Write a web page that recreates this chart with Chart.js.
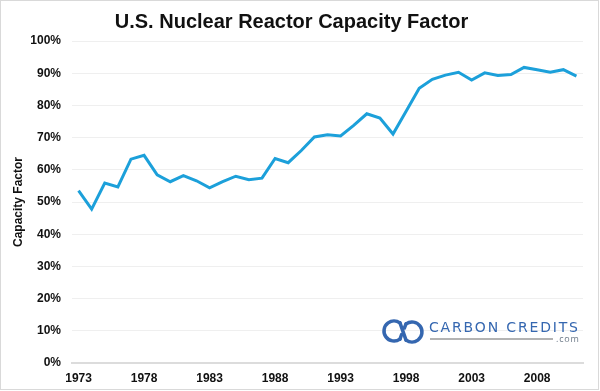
<!DOCTYPE html>
<html>
<head>
<meta charset="utf-8">
<script src="https://cdn.jsdelivr.net/npm/chart.js@4"></script>
<style>
    body { margin: 0; background: #fff; }
    #wrap { position: relative; width: 600px; height: 391px; }
</style>
</head>
<body>
<div id="wrap"><canvas id="lineChart"></canvas></div>
<script>
        // Dados do gráfico
        const years = ['1973', '1974', '1975', '1976', '1977', '1978', '1979', '1980', '1981', '1982',
            '1983', '1984', '1985', '1986', '1987', '1988', '1989', '1990', '1991', '1992',
            '1993', '1994', '1995', '1996', '1997', '1998', '1999', '2000', '2001', '2002',
            '2003', '2004', '2005', '2006', '2007', '2008', '2009', '2010', '2011'];
        const capacityFactor = [53.5, 47.8, 55.9, 54.7, 63.3, 64.5, 58.4, 56.3, 58.2, 56.6,
            54.4, 56.3, 58.0, 56.9, 57.4, 63.5, 62.2, 66.0, 70.2, 70.9,
            70.5, 73.8, 77.4, 76.1, 71.1, 78.2, 85.3, 88.1, 89.4, 90.3,
            87.9, 90.1, 89.3, 89.6, 91.8, 91.1, 90.3, 91.1, 89.1];
        const labeledYears = ['1973', '1978', '1983', '1988', '1993', '1998', '2003', '2008'];

        const FONT = "'Liberation Sans', Arial, sans-serif";
        const BLUE_LOGO = '#3567b0';

        document.addEventListener('DOMContentLoaded', function() {
            initLineChart();
        });

        // Moldura cinza e logo "Carbon Credits"
        const decorPlugin = {
            id: 'decor',
            afterDraw(chart) {
                const ctx = chart.ctx;
                ctx.save();
                ctx.strokeStyle = '#d9d9d9';
                ctx.lineWidth = 1;
                ctx.strokeRect(0.5, 0.5, 598, 389);

                // icone (dois elos entrelaçados)
                ctx.strokeStyle = BLUE_LOGO;
                ctx.lineWidth = 3.5;
                ctx.lineCap = 'round';
                ctx.beginPath();
                ctx.arc(394, 331, 10, 0.3 * Math.PI, 1.7 * Math.PI);
                ctx.stroke();
                ctx.beginPath();
                ctx.arc(412, 332, 10, 1.3 * Math.PI, 0.7 * Math.PI);
                ctx.stroke();
                ctx.beginPath();
                ctx.moveTo(400, 322.9);
                ctx.lineTo(406, 340.1);
                ctx.stroke();
                ctx.beginPath();
                ctx.moveTo(400, 339.1);
                ctx.lineTo(401.6, 334.5);
                ctx.moveTo(404.4, 328.0);
                ctx.lineTo(406, 323.9);
                ctx.stroke();

                // texto
                const text = 'CARBON CREDITS';
                ctx.font = "14px 'DejaVu Sans', sans-serif";
                const w = ctx.measureText(text).width;
                ctx.letterSpacing = Math.max(0, (149 - w) / 13).toFixed(2) + 'px';
                ctx.fillStyle = BLUE_LOGO;
                ctx.textBaseline = 'alphabetic';
                ctx.textAlign = 'left';
                ctx.fillText(text, 429, 332);

                ctx.strokeStyle = '#9a9a9a';
                ctx.lineWidth = 1.5;
                ctx.lineCap = 'butt';
                ctx.beginPath();
                ctx.moveTo(430, 339);
                ctx.lineTo(553, 339);
                ctx.stroke();

                ctx.letterSpacing = '0.8px';
                ctx.font = "9px 'Open Sans', sans-serif";
                ctx.fillStyle = '#6d7a88';
                ctx.textBaseline = 'middle';
                ctx.fillText('.com', 556, 339.5);
                ctx.restore();
            }
        };

        // Gráfico de Linha
        function initLineChart() {
            const ctx = document.getElementById('lineChart').getContext('2d');
            const lineChart = new Chart(ctx, {
                type: 'line',
                data: {
                    labels: years,
                    datasets: [{
                        label: 'Capacity Factor',
                        data: capacityFactor,
                        borderColor: '#1ca0da',
                        backgroundColor: '#1ca0da',
                        borderWidth: 3,
                        pointRadius: 0,
                        tension: 0,
                        fill: false
                    }]
                },
                options: {
                    responsive: true,
                    maintainAspectRatio: false,
                    animation: false,
                    layout: {
                        padding: { left: 0, right: 17, top: 0, bottom: 0 }
                    },
                    plugins: {
                        legend: { display: false },
                        title: {
                            display: true,
                            text: 'U.S. Nuclear Reactor Capacity Factor',
                            color: '#111',
                            font: { family: FONT, size: 20, weight: 'bold' },
                            padding: { top: 10, bottom: 7 }
                        },
                        tooltip: {
                            callbacks: {
                                label: function(context) {
                                    return context.parsed.y + '%';
                                }
                            }
                        }
                    },
                    scales: {
                        x: {
                            type: 'category',
                            offset: true,
                            grid: { display: false, drawTicks: false },
                            border: { display: true, color: '#dcdcdc', width: 2 },
                            ticks: {
                                autoSkip: false,
                                maxRotation: 0,
                                padding: 8,
                                color: '#111',
                                font: { family: FONT, size: 12, weight: 'bold' },
                                callback: function(value) {
                                    const y = this.getLabelForValue(value);
                                    return labeledYears.includes(y) ? y : '';
                                }
                            },
                            afterFit: function(scale) {
                                scale.height = 28;
                            }
                        },
                        y: {
                            min: 0,
                            max: 100,
                            grid: { color: '#efefef', lineWidth: 1, drawTicks: false },
                            border: { display: false },
                            ticks: {
                                stepSize: 10,
                                padding: 11,
                                color: '#111',
                                font: { family: FONT, size: 12, weight: 'bold' },
                                callback: function(value) {
                                    return value + '%';
                                }
                            },
                            title: {
                                display: true,
                                text: 'Capacity Factor',
                                color: '#111',
                                font: { family: FONT, size: 12, weight: 'bold' },
                                padding: { top: 11, bottom: 0 }
                            },
                            afterFit: function(scale) {
                                scale.width = 72;
                            }
                        }
                    }
                },
                plugins: [decorPlugin]
            });
        }
</script>
</body>
</html>
